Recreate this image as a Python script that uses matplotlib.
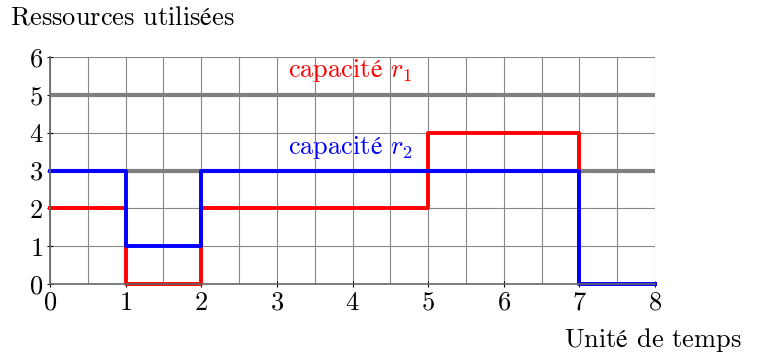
import matplotlib.pyplot as plt
import numpy as np

plt.rcParams['mathtext.fontset'] = 'cm'
plt.rcParams['font.family'] = ['cmr10', 'DejaVu Serif']
plt.rcParams['axes.formatter.use_mathtext'] = True

# step data: value on [t, t+1)
temps = [0, 1, 2, 3, 4, 5, 6, 7, 8]
r1_usage = [2, 0, 2, 2, 2, 4, 4, 0, 0]
r2_usage = [3, 1, 3, 3, 3, 3, 3, 0, 0]
capacite_r1 = 5
capacite_r2 = 3

E = r'$\mathrm{é}$'

fig = plt.figure(figsize=(7.62, 3.58), dpi=100)
ax = fig.add_axes([50 / 762, 74 / 358, 605 / 762, 227 / 358])

ax.set_xlim(0, 8)
ax.set_ylim(0, 6)
ax.set_xticks(np.arange(0, 9, 1))
ax.set_xticks(np.arange(0, 8.5, 0.5), minor=True)
ax.set_yticks(np.arange(0, 7, 1))
ax.grid(which='both', axis='x', color='#888888', lw=0.8)
ax.grid(which='major', axis='y', color='#888888', lw=0.8)
ax.set_axisbelow(True)
ax.tick_params(which='minor', length=0)
ax.tick_params(which='major', direction='inout', length=4, width=0.8,
               labelsize=19, pad=3)

for s in ['top', 'right']:
    ax.spines[s].set_visible(False)
for s in ['left', 'bottom']:
    ax.spines[s].set_color('#666666')
    ax.spines[s].set_linewidth(1.2)

ax.axhline(capacite_r1, color='#808080', lw=3)
ax.axhline(capacite_r2, color='#808080', lw=3)

ax.step(temps, r1_usage, where='post', color='red', lw=2.8, clip_on=False)
ax.step(temps, r2_usage, where='post', color='blue', lw=2.8, clip_on=False)

ax.text(3.97, 5.63, 'capacit' + E + r' $r_1$', color='red',
        fontsize=19, ha='center', va='center', zorder=0.2)
ax.text(3.97, 3.6, 'capacit' + E + r' $r_2$', color='blue',
        fontsize=19, ha='center', va='center', zorder=0.2)

fig.text(10 / 762, 1 - 18 / 358, 'Ressources utilis' + E + 'es',
         fontsize=19, ha='left', va='center')
fig.text(742 / 762, 1 - 340 / 358, 'Unit' + E + ' de temps',
         fontsize=19, ha='right', va='center')

fig.savefig('out.png', dpi=100)
